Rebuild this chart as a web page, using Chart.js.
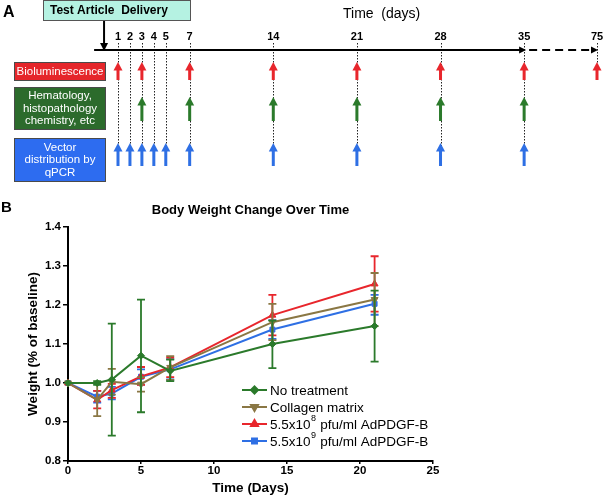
<!DOCTYPE html>
<html>
<head>
<meta charset="utf-8">
<title>Body Weight Change Over Time</title>
<style>
  body { margin: 0; background: #fff; }
  #wrapA { position: absolute; left: 0; top: 0; width: 603px; height: 185px; }
  #wrapB { position: absolute; left: 0; top: 185px; width: 603px; height: 313px; }
</style>
</head>
<body>

<div id="wrapA"><canvas id="timeline"></canvas></div>
<div id="wrapB"><canvas id="weightChart"></canvas></div>

<script src="https://cdn.jsdelivr.net/npm/chart.js"></script>

<script>
    // ---- panel A: study timeline (days) ----
    const timelineDays = [1, 2, 3, 4, 5, 7, 14, 21, 28, 35, 75];
    const biolumDays = [1, 3, 7, 14, 21, 28, 35, 75];
    const hematologyDays = [3, 7, 14, 21, 28, 35];
    const vectorDays = [1, 2, 3, 4, 5, 7, 14, 21, 28, 35];
    const deliveryDay = 0;
    const lastSolidDay = 35;

    // ---- panel B: body weight (fraction of baseline) ----
    const days = [0, 2, 3, 5, 7, 14, 21];
    const seriesNames = ['No treatment', 'Collagen matrix', '5.5x10^8 pfu/ml AdPDGF-B', '5.5x10^9 pfu/ml AdPDGF-B'];

    const noTreatment   = [1.000, 1.000, 1.009, 1.070, 1.031, 1.100, 1.146];
    const noTreatmentLo = [1.000, 0.995, 0.865, 0.925, 1.005, 1.038, 1.055];
    const noTreatmentHi = [1.000, 1.005, 1.152, 1.214, 1.060, 1.160, 1.237];

    const collagen   = [1.000, 0.957, 1.003, 0.997, 1.040, 1.156, 1.214];
    const collagenLo = [1.000, 0.915, 0.970, 0.978, 1.008, 1.110, 1.146];
    const collagenHi = [1.000, 0.999, 1.036, 1.015, 1.069, 1.203, 1.282];

    const dose8   = [1.000, 0.957, 0.982, 1.017, 1.040, 1.174, 1.254];
    const dose8Lo = [1.000, 0.935, 0.962, 0.995, 1.015, 1.122, 1.183];
    const dose8Hi = [1.000, 0.980, 0.998, 1.041, 1.065, 1.226, 1.325];

    const dose9   = [1.000, 0.965, 0.973, 1.016, 1.035, 1.137, 1.203];
    const dose9Lo = [1.000, 0.950, 0.958, 0.996, 1.009, 1.113, 1.175];
    const dose9Hi = [1.000, 0.980, 0.990, 1.035, 1.061, 1.161, 1.226];

    const FONT = 'Arial, "Liberation Sans", Helvetica, sans-serif';
    Chart.defaults.font.family = FONT;
    Chart.defaults.color = '#000';

    const RED = '#e8262c', GREEN = '#2b7a2b', BLUE = '#2e6fe4', BROWN = '#8a7744';

    // days after 35 are squeezed (axis break drawn dashed)
    function dayPos(d) {
        return d <= lastSolidDay ? d : lastSolidDay + (d - lastSolidDay) * 6.1 / 40;
    }

    function upArrow(ctx, x, top, bottom, color) {
        ctx.fillStyle = color;
        ctx.fillRect(x - 1.5, top + 7, 3, bottom - top - 7);
        ctx.beginPath();
        ctx.moveTo(x, top);
        ctx.lineTo(x + 4.5, top + 8.5);
        ctx.lineTo(x - 4.5, top + 8.5);
        ctx.closePath();
        ctx.fill();
    }

    function labelBox(ctx, x, y, w, h, fill, lines, lineGap) {
        ctx.fillStyle = fill;
        ctx.fillRect(x, y, w, h);
        ctx.strokeStyle = '#4a4a4a';
        ctx.lineWidth = 1;
        ctx.strokeRect(x + 0.5, y + 0.5, w - 1, h - 1);
        ctx.fillStyle = '#fff';
        ctx.font = '11.5px ' + FONT;
        ctx.textAlign = 'center';
        ctx.textBaseline = 'middle';
        const cy = y + h / 2 - (lines.length - 1) * lineGap / 2;
        lines.forEach((t, i) => ctx.fillText(t, x + w / 2, cy + i * lineGap));
    }

    const rows = [
        { days: biolumDays, color: RED, top: 62, bottom: 80,
          box: { y: 62, h: 19, fill: '#e5262b', lines: ['Bioluminescence'] } },
        { days: hematologyDays, color: GREEN, top: 97, bottom: 121,
          box: { y: 87, h: 43, fill: '#2c6b2c', lines: ['Hematology,', 'histopathology', 'chemistry, etc'] } },
        { days: vectorDays, color: BLUE, top: 143, bottom: 166,
          box: { y: 138, h: 44, fill: '#2d6cf0', lines: ['Vector', 'distribution by', 'qPCR'] } }
    ];

    const timelinePlugin = {
        id: 'timelinePlugin',
        afterDraw(chart) {
            const ctx = chart.ctx;
            const xs = chart.scales.x;
            const px = d => xs.getPixelForValue(dayPos(d));
            const axisY = 50;
            ctx.save();

            // panel letter
            ctx.fillStyle = '#000';
            ctx.font = 'bold 16px ' + FONT;
            ctx.textAlign = 'left';
            ctx.textBaseline = 'alphabetic';
            ctx.fillText('A', 3, 17);

            // delivery box
            ctx.fillStyle = '#b5f2e2';
            ctx.fillRect(43, 0, 148, 21);
            ctx.strokeStyle = '#555';
            ctx.lineWidth = 1;
            ctx.strokeRect(43.5, 0.5, 147, 20);
            ctx.fillStyle = '#000';
            ctx.font = 'bold 12px ' + FONT;
            ctx.textBaseline = 'middle';
            ctx.fillText('Test Article  Delivery', 50, 11);

            // "Time (days)"
            ctx.font = '14px ' + FONT;
            ctx.fillText('Time  (days)', 343, 14);

            // dotted guides from axis to the lowest arrow of each day
            ctx.strokeStyle = '#222';
            ctx.lineWidth = 1;
            ctx.setLineDash([1.5, 1.5]);
            timelineDays.forEach(d => {
                let bottom = axisY;
                rows.forEach(r => { if (r.days.includes(d)) bottom = Math.max(bottom, r.bottom); });
                const x = Math.round(px(d)) + 0.5;
                ctx.beginPath();
                ctx.moveTo(x, 43);
                ctx.lineTo(x, bottom);
                ctx.stroke();
            });
            ctx.setLineDash([]);

            // solid time axis
            ctx.strokeStyle = '#000';
            ctx.fillStyle = '#000';
            ctx.lineWidth = 2;
            ctx.beginPath();
            ctx.moveTo(px(-1), axisY);
            ctx.lineTo(px(lastSolidDay) - 3, axisY);
            ctx.stroke();
            ctx.beginPath();
            ctx.moveTo(px(lastSolidDay) + 2, axisY);
            ctx.lineTo(px(lastSolidDay) - 5, axisY - 3.5);
            ctx.lineTo(px(lastSolidDay) - 5, axisY + 3.5);
            ctx.closePath();
            ctx.fill();
            // dashed continuation
            ctx.setLineDash([8, 5]);
            ctx.beginPath();
            ctx.moveTo(px(lastSolidDay) + 5, axisY);
            ctx.lineTo(px(75) - 4, axisY);
            ctx.stroke();
            ctx.setLineDash([]);
            ctx.beginPath();
            ctx.moveTo(px(75) + 1, axisY);
            ctx.lineTo(px(75) - 6, axisY - 3.5);
            ctx.lineTo(px(75) - 6, axisY + 3.5);
            ctx.closePath();
            ctx.fill();

            // delivery arrow
            const dx = px(deliveryDay) - 2;
            ctx.lineWidth = 2;
            ctx.beginPath();
            ctx.moveTo(dx, 21);
            ctx.lineTo(dx, axisY - 6);
            ctx.stroke();
            ctx.beginPath();
            ctx.moveTo(dx, axisY + 1);
            ctx.lineTo(dx - 4, axisY - 7);
            ctx.lineTo(dx + 4, axisY - 7);
            ctx.closePath();
            ctx.fill();

            // day numbers
            ctx.font = 'bold 11px ' + FONT;
            ctx.textAlign = 'center';
            ctx.textBaseline = 'middle';
            timelineDays.forEach(d => ctx.fillText(String(d), px(d), 37));

            // label boxes and arrows
            rows.forEach(r => {
                labelBox(ctx, 14, r.box.y, 92, r.box.h, r.box.fill, r.box.lines, 12.5);
                r.days.forEach(d => upArrow(ctx, px(d), r.top, r.bottom, r.color));
            });

            ctx.restore();
        }
    };

    new Chart(document.getElementById('timeline'), {
        type: 'scatter',
        data: { datasets: [] },
        options: {
            responsive: true,
            maintainAspectRatio: false,
            animation: false,
            layout: { padding: { left: 118, right: 6, top: 0, bottom: 0 } },
            plugins: { legend: { display: false }, tooltip: { enabled: false } },
            scales: {
                x: { type: 'linear', display: false, min: 1, max: dayPos(75) },
                y: { type: 'linear', display: false, min: 0, max: 1 }
            }
        },
        plugins: [timelinePlugin]
    });

    // ---- panel B ----
    const errorBarPlugin = {
        id: 'errorBars',
        afterDatasetDraw(chart, args) {
            const ds = chart.data.datasets[args.index];
            if (!ds.errLo) return;
            const ctx = chart.ctx;
            const xs = chart.scales.x, ys = chart.scales.y;
            ctx.save();
            ctx.strokeStyle = ds.borderColor;
            ctx.lineWidth = 1.8;
            ds.data.forEach((p, i) => {
                const x = xs.getPixelForValue(p.x);
                const yl = ys.getPixelForValue(ds.errLo[i]);
                const yh = ys.getPixelForValue(ds.errHi[i]);
                if (Math.abs(yl - yh) < 1) return;
                ctx.beginPath();
                ctx.moveTo(x, yl); ctx.lineTo(x, yh);
                ctx.moveTo(x - 4, yl); ctx.lineTo(x + 4, yl);
                ctx.moveTo(x - 4, yh); ctx.lineTo(x + 4, yh);
                ctx.stroke();
            });
            ctx.restore();
        }
    };

    const legendPlugin = {
        id: 'customLegend',
        afterDraw(chart) {
            const ctx = chart.ctx;
            ctx.save();
            ctx.fillStyle = '#000';
            ctx.font = 'bold 15px ' + FONT;
            ctx.textAlign = 'left';
            ctx.textBaseline = 'middle';
            ctx.fillText('B', 1, 23);

            const x0 = 242, x1 = 267, yTop = 205, gap = 17;
            chart.data.datasets.forEach((ds, i) => {
                const y = yTop + i * gap;
                ctx.strokeStyle = ds.borderColor;
                ctx.lineWidth = 2;
                ctx.beginPath();
                ctx.moveTo(x0, y); ctx.lineTo(x1, y);
                ctx.stroke();
                ctx.fillStyle = ds.backgroundColor;
                Chart.helpers.drawPoint(ctx, {
                    pointStyle: ds.pointStyle, rotation: ds.pointRotation || 0,
                    radius: ds.pointRadius, borderWidth: 1
                }, (x0 + x1) / 2, y);

                // label, with "^n" shown as superscript
                const m = ds.label.match(/^(.*?)\^(\d+)(.*)$/);
                ctx.fillStyle = '#000';
                ctx.font = '13.5px ' + FONT;
                let tx = x1 + 3;
                if (m) {
                    ctx.fillText(m[1], tx, y + 1);
                    tx += ctx.measureText(m[1]).width;
                    ctx.font = '9px ' + FONT;
                    ctx.fillText(m[2], tx + 0.5, y - 5);
                    tx += ctx.measureText(m[2]).width + 1;
                    ctx.font = '13.5px ' + FONT;
                    ctx.fillText(m[3], tx, y + 1);
                } else {
                    ctx.fillText(ds.label, tx, y + 1);
                }
            });
            ctx.restore();
        }
    };

    function series(label, values, lo, hi, color, style, rotation, radius) {
        return {
            label: label,
            data: days.map((d, i) => ({ x: d, y: values[i] })),
            errLo: lo,
            errHi: hi,
            borderColor: color,
            backgroundColor: color,
            borderWidth: 2,
            pointStyle: style,
            pointRotation: rotation,
            pointRadius: radius,
            pointBorderWidth: 1,
            tension: 0,
            clip: false
        };
    }

    new Chart(document.getElementById('weightChart'), {
        type: 'line',
        data: {
            datasets: [
                series(seriesNames[0], noTreatment, noTreatmentLo, noTreatmentHi, GREEN, 'rectRot', 0, 3.5),
                series(seriesNames[1], collagen, collagenLo, collagenHi, BROWN, 'triangle', 180, 4),
                series(seriesNames[2], dose8, dose8Lo, dose8Hi, RED, 'triangle', 0, 4),
                series(seriesNames[3], dose9, dose9Lo, dose9Hi, BLUE, 'rect', 0, 3.5)
            ]
        },
        options: {
            responsive: true,
            maintainAspectRatio: false,
            animation: false,
            layout: { padding: { left: 0, right: 170, top: 0, bottom: 0 } },
            plugins: {
                legend: { display: false },
                tooltip: { enabled: false },
                title: {
                    display: true,
                    fullSize: false,
                    text: 'Body Weight Change Over Time',
                    color: '#000',
                    font: { size: 13, weight: 'bold' },
                    padding: { top: 18, bottom: 8.4 }
                }
            },
            scales: {
                x: {
                    type: 'linear',
                    min: 0,
                    max: 25,
                    ticks: { stepSize: 5, padding: 0, font: { size: 11.5, weight: 'bold' } },
                    grid: { drawOnChartArea: false, drawTicks: true, tickLength: 3, color: '#000', lineWidth: 1.5 },
                    border: { color: '#000', width: 2 },
                    title: { display: true, text: 'Time (Days)', font: { size: 13.5, weight: 'bold' }, padding: { top: 0, bottom: 2 } },
                    afterFit(s) { s.height = 37; }
                },
                y: {
                    type: 'linear',
                    min: 0.8,
                    max: 1.4,
                    ticks: { stepSize: 0.1, padding: 2, font: { size: 11.5, weight: 'bold' }, callback: v => v.toFixed(1) },
                    grid: { drawOnChartArea: false, drawTicks: true, tickLength: 5, color: '#000', lineWidth: 1.5 },
                    border: { color: '#000', width: 2 },
                    title: { display: true, text: 'Weight (% of baseline)', font: { size: 13.5, weight: 'bold' }, padding: { top: 25, bottom: 0 } },
                    afterFit(s) { s.width = 68; }
                }
            }
        },
        plugins: [errorBarPlugin, legendPlugin]
    });
</script>

</body>
</html>
